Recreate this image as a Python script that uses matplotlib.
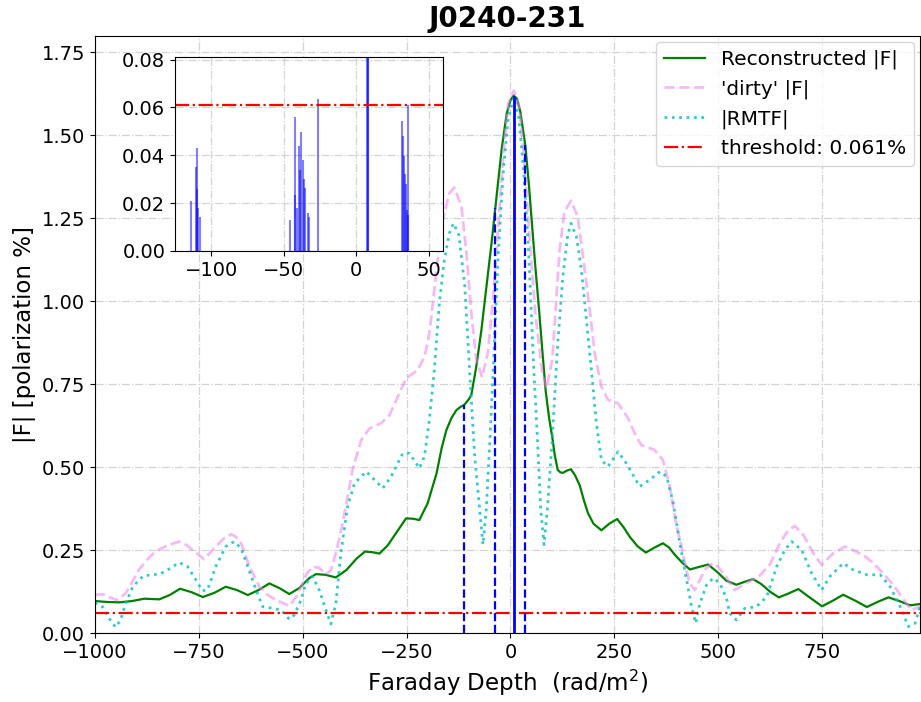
import matplotlib
matplotlib.use("Agg")
import matplotlib.pyplot as plt

# Faraday depth samples (rad/m^2) and |F| values (%)
phi_clean = [-1000, -970, -941, -910, -881, -845, -820, -795, -768, -740, -712, -685,
             -658, -632, -606, -580, -556, -532, -508, -484, -468, -445, -420, -395,
             -370, -350, -332, -315, -295, -275, -251, -235, -219, -199, -178, -165,
             -154, -142, -130, -120, -111, -100, -94, -82, -70, -58, -45, -33, -21,
             -9, 0, 8, 16, 24, 36, 44, 52, 60, 69, 77, 85, 93, 101, 107, 114, 120,
             126, 136, 146, 156, 167, 177, 187, 200, 219, 238, 257, 272, 287, 306,
             326, 347, 367, 382, 396, 414, 432, 455, 476, 500, 520, 544, 564, 584,
             604, 625, 646, 670, 693, 720, 750, 776, 801, 830, 858, 885, 910, 936,
             962, 986]
f_clean = [0.097, 0.094, 0.093, 0.097, 0.104, 0.102, 0.115, 0.134, 0.124, 0.109, 0.122,
           0.140, 0.130, 0.115, 0.130, 0.150, 0.136, 0.118, 0.136, 0.166, 0.178, 0.176,
           0.168, 0.190, 0.225, 0.246, 0.244, 0.240, 0.265, 0.302, 0.346, 0.345, 0.341,
           0.392, 0.480, 0.560, 0.612, 0.648, 0.672, 0.682, 0.688, 0.705, 0.718, 0.804,
           0.911, 1.040, 1.179, 1.319, 1.458, 1.565, 1.605, 1.620, 1.610, 1.571, 1.469,
           1.360, 1.233, 1.105, 0.975, 0.850, 0.729, 0.650, 0.589, 0.535, 0.492, 0.485,
           0.483, 0.490, 0.494, 0.475, 0.445, 0.400, 0.361, 0.330, 0.310, 0.330, 0.344,
           0.320, 0.291, 0.262, 0.243, 0.258, 0.271, 0.258, 0.236, 0.212, 0.192, 0.200,
           0.207, 0.182, 0.158, 0.146, 0.155, 0.163, 0.148, 0.125, 0.108, 0.120, 0.133,
           0.108, 0.081, 0.098, 0.116, 0.098, 0.079, 0.095, 0.108, 0.097, 0.084, 0.088]

phi_dirty = [-1000, -982, -965, -946, -926, -910, -894, -874, -854, -825, -797, -780,
             -765, -737, -709, -690, -672, -660, -648, -628, -604, -584, -564, -532,
             -515, -504, -490, -476, -460, -444, -432, -418, -404, -392, -380, -359,
             -339, -311, -291, -267, -251, -223, -207, -198, -191, -178, -163, -147,
             -135, -118, -106, -94, -82, -68, -54, -41, -29, -17, -5, 8, 20, 32, 44,
             60, 77, 87, 101, 118, 130, 146, 162, 179, 191, 203, 219, 235, 259, 283,
             300, 315, 347, 367, 384, 400, 412, 422, 432, 444, 460, 470, 488, 500,
             516, 540, 568, 600, 625, 650, 670, 685, 705, 729, 749, 777, 805, 825,
             849, 870, 890, 922, 946, 965, 986]
f_dirty = [0.115, 0.118, 0.108, 0.100, 0.120, 0.155, 0.191, 0.222, 0.246, 0.265, 0.276,
           0.266, 0.251, 0.223, 0.261, 0.285, 0.298, 0.290, 0.271, 0.201, 0.140, 0.115,
           0.100, 0.082, 0.110, 0.139, 0.180, 0.200, 0.197, 0.178, 0.190, 0.250, 0.330,
           0.410, 0.492, 0.582, 0.617, 0.633, 0.657, 0.723, 0.768, 0.793, 0.833, 0.880,
           0.944, 1.094, 1.245, 1.325, 1.343, 1.287, 1.150, 0.965, 0.825, 0.771, 0.847,
           1.018, 1.233, 1.447, 1.597, 1.635, 1.597, 1.447, 1.233, 0.965, 0.782, 0.739,
           0.825, 1.150, 1.270, 1.303, 1.255, 1.094, 0.974, 0.843, 0.743, 0.703, 0.693,
           0.648, 0.600, 0.567, 0.552, 0.522, 0.440, 0.321, 0.261, 0.200, 0.148, 0.130,
           0.170, 0.195, 0.212, 0.200, 0.175, 0.130, 0.151, 0.173, 0.208, 0.275, 0.312,
           0.323, 0.296, 0.241, 0.206, 0.241, 0.261, 0.250, 0.236, 0.215, 0.190, 0.145,
           0.102, 0.070, 0.080]

phi_rmtf = [-1000, -982, -966, -950, -938, -926, -910, -895, -882, -862, -842, -822,
            -797, -777, -757, -741, -729, -709, -685, -665, -648, -632, -612, -596,
            -572, -552, -532, -520, -504, -492, -476, -460, -444, -432, -420, -408,
            -392, -375, -347, -327, -307, -287, -259, -243, -219, -207, -195, -183,
            -171, -159, -147, -137, -124, -110, -98, -86, -74, -66, -58, -49, -41,
            -29, -17, -5, 8, 20, 32, 44, 56, 65, 73, 81, 89, 101, 113, 126, 138, 146,
            159, 171, 183, 195, 207, 219, 235, 259, 279, 311, 335, 360, 376, 392, 408,
            424, 436, 446, 456, 472, 488, 504, 520, 528, 544, 564, 592, 617, 641, 660,
            677, 701, 725, 749, 769, 801, 825, 858, 890, 914, 938, 958, 974, 986]
f_rmtf = [0.092, 0.080, 0.045, 0.018, 0.040, 0.090, 0.136, 0.160, 0.173, 0.176, 0.179,
          0.193, 0.213, 0.201, 0.161, 0.128, 0.130, 0.201, 0.261, 0.276, 0.256, 0.201,
          0.130, 0.080, 0.075, 0.070, 0.042, 0.055, 0.100, 0.151, 0.171, 0.130, 0.070,
          0.028, 0.090, 0.241, 0.381, 0.452, 0.487, 0.462, 0.437, 0.472, 0.542, 0.542,
          0.497, 0.532, 0.642, 0.793, 0.994, 1.124, 1.205, 1.235, 1.200, 1.050, 0.790,
          0.535, 0.374, 0.267, 0.374, 0.589, 0.804, 1.147, 1.394, 1.555, 1.614, 1.555,
          1.394, 1.147, 0.804, 0.589, 0.374, 0.267, 0.374, 0.589, 0.857, 1.072, 1.200,
          1.235, 1.195, 1.094, 0.944, 0.793, 0.633, 0.522, 0.502, 0.547, 0.512, 0.442,
          0.462, 0.487, 0.472, 0.392, 0.271, 0.161, 0.080, 0.030, 0.090, 0.145, 0.166,
          0.151, 0.105, 0.060, 0.040, 0.075, 0.080, 0.110, 0.201, 0.250, 0.276, 0.251,
          0.181, 0.130, 0.171, 0.211, 0.191, 0.176, 0.176, 0.140, 0.080, 0.020, 0.030,
          0.080]

threshold = 0.061

# main peaks marked with vertical lines
peak_phi = [-111, -38, 36]
peak_f = [0.688, 1.28, 1.47]
main_phi = 8
main_f = 1.620

# clean components shown in the inset
comp_phi = [-114, -110.5, -110, -109.5, -109, -108, -45.5, -42.5, -42.3, -40.7, -39.5,
            -39, -38, -36.8, -36, -35.5, -33, -32.8, -26.2, 31.5, 32.4, 33, 33.8, 34.2,
            35, 35.6, 36]
comp_amp = [0.021, 0.035, 0.026, 0.043, 0.018, 0.014, 0.0128, 0.056, 0.0236, 0.018,
            0.044, 0.034, 0.0498, 0.038, 0.030, 0.0264, 0.016, 0.014, 0.0635, 0.0545,
            0.048, 0.0395, 0.032, 0.028, 0.017, 0.061, 0.015]
main_comp_phi = [7.6, 8.0, 8.4]
main_comp_amp = [1.0, 1.0, 1.0]

fig = plt.figure(figsize=(9.21, 7.02), dpi=100)
ax = fig.add_axes([0.103, 0.098, 0.896, 0.851])

ax.plot(phi_clean, f_clean, color="green", lw=1.6, label="Reconstructed |F|")
ax.plot(phi_dirty, f_dirty, color="violet", alpha=0.55, ls="--", lw=2,
        label="'dirty' |F|")
ax.plot(phi_rmtf, f_rmtf, color="c", alpha=0.8, ls=":", lw=2, label="|RMTF|")
ax.axhline(threshold, color="r", ls="-.", lw=1.6,
           label="threshold: %.3f%%" % threshold)
ax.vlines(peak_phi, 0, peak_f, colors="b", linestyles="--", lw=1.6)
ax.vlines([main_phi], 0, [main_f], colors="b", lw=2)

ax.set_xlim(-1000, 986)
ax.set_ylim(0, 1.8)
ax.set_yticks([0, 0.25, 0.5, 0.75, 1.0, 1.25, 1.5, 1.75])
ax.yaxis.set_major_formatter(matplotlib.ticker.FormatStrFormatter("%.2f"))
ax.tick_params(labelsize=14)
ax.grid(True, ls="-.", color="lightgray", lw=0.9)
ax.set_xlabel("Faraday Depth  (rad/m$^2$)", fontsize=16.5)
ax.set_ylabel("|F| [polarization %]", fontsize=16.5)
ax.set_title("J0240-231", fontsize=20, fontweight="bold")
ax.legend(loc="upper right", fontsize=14.5, borderaxespad=0.3)

# inset with the clean components
ins = fig.add_axes([0.190, 0.6425, 0.291, 0.276])
ins.vlines(comp_phi, 0, comp_amp, colors="b", alpha=0.5, lw=1.5)
ins.vlines(main_comp_phi, 0, main_comp_amp, colors="b", alpha=0.5, lw=1.5)
ins.axhline(threshold, color="r", ls="-.", lw=1.6)
ins.set_xlim(-125, 60)
ins.set_ylim(0, 0.081)
ins.set_yticks([0, 0.02, 0.04, 0.06, 0.08])
ins.yaxis.set_major_formatter(matplotlib.ticker.FormatStrFormatter("%.2f"))
ins.tick_params(labelsize=14)
ins.grid(True, ls="-.", color="lightgray", lw=0.9)

fig.savefig("out.png", dpi=100)
